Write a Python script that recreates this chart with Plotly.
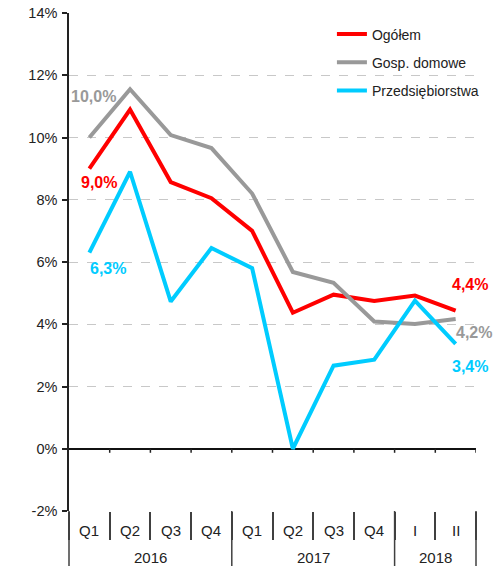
import plotly.graph_objects as go

# ---- data ----
quarters = ["Q1", "Q2", "Q3", "Q4", "Q1", "Q2", "Q3", "Q4", "I", "II"]
years = ["2016", "2017", "2018"]
year_sizes = [4, 4, 2]

ogolem = [9.0, 10.9, 8.57, 8.05, 7.0, 4.37, 4.95, 4.75, 4.92, 4.44]
gosp_domowe = [10.0, 11.55, 10.08, 9.66, 8.2, 5.68, 5.33, 4.09, 4.01, 4.17]
przedsiebiorstwa = [6.3, 8.9, 4.73, 6.45, 5.8, 0.0, 2.67, 2.86, 4.76, 3.37]

series_names = ["Ogółem", "Gosp. domowe", "Przedsiębiorstwa"]
series_values = [ogolem, gosp_domowe, przedsiebiorstwa]
series_colors = ["#FF0000", "#999999", "#00CCFF"]

y_ticks = [-2, 0, 2, 4, 6, 8, 10, 12, 14]

# data labels: (series index, point index, text, xshift, yshift)
data_labels = [
    (1, 0, "10,0%", 4, 41),
    (0, 0, "9,0%", 10, -14),
    (2, 0, "6,3%", 19, -16),
    (0, 9, "4,4%", 14, 26),
    (1, 9, "4,2%", 18, -14),
    (2, 9, "3,4%", 14, -23),
]

n = len(quarters)
xs = list(range(n))

fig = go.Figure()
for i, (name, vals, col) in enumerate(zip(series_names, series_values, series_colors)):
    fig.add_trace(go.Scatter(
        x=xs, y=vals, mode="lines", name=name,
        line=dict(color=col, width=4),
        legendgroup=name,
        hoverinfo="skip",
    ))

annotations = []
for si, pi, txt, dx, dy in data_labels:
    annotations.append(dict(
        x=xs[pi], y=series_values[si][pi], xref="x", yref="y",
        text="<b>%s</b>" % txt, showarrow=False,
        xshift=dx, yshift=dy,
        font=dict(family="Liberation Sans, Arial", size=16, color=series_colors[si]),
    ))

# quarter labels
for i, q in enumerate(quarters):
    annotations.append(dict(
        x=xs[i], y=0, xref="x", yref="paper", text=q, showarrow=False,
        yanchor="middle", yshift=-19,
        font=dict(family="Liberation Sans, Arial", size=15, color="#222"),
    ))

# year labels
plot_h = 498.0
shapes = []
start = 0
year_bounds = [0]
for y_lbl, sz in zip(years, year_sizes):
    center = start + (sz - 1) / 2.0
    annotations.append(dict(
        x=center, y=0, xref="x", yref="paper", text=y_lbl, showarrow=False,
        yanchor="middle", yshift=-46,
        font=dict(family="Liberation Sans, Arial", size=15, color="#222"),
    ))
    start += sz
    year_bounds.append(start)

sep_col = "#404040"
for b in year_bounds:
    shapes.append(dict(type="line", xref="paper", yref="paper",
                       x0=b / n, x1=b / n, y0=0, y1=-55 / plot_h,
                       line=dict(color=sep_col, width=1.5)))

# small ticks on the 0% line at category boundaries
for b in range(1, n + 1):
    shapes.append(dict(type="line", xref="x", yref="y",
                       x0=b - 0.5, x1=b - 0.5, y0=0, y1=-0.13,
                       line=dict(color="#222", width=1.5)))

fig.update_layout(
    width=496, height=559,
    margin=dict(l=61, r=28, t=5, b=56, pad=0, autoexpand=False),
    paper_bgcolor="white", plot_bgcolor="white",
    font=dict(family="Liberation Sans, Arial", size=14, color="#222"),
    showlegend=True,
    legend=dict(
        x=0.646, y=0.989, xanchor="left", yanchor="top",
        bgcolor="rgba(0,0,0,0)", borderwidth=0,
        tracegroupgap=7,
        font=dict(family="Liberation Sans, Arial", size=14, color="#222"),
    ),
    annotations=annotations,
    shapes=shapes,
)

fig.update_xaxes(
    range=[-0.5, n - 0.5],
    tickmode="array", tickvals=[b - 0.5 for b in range(n + 1)],
    showticklabels=False, ticks="outside", ticklen=28, tickwidth=1.5, tickcolor=sep_col,
    showgrid=False, zeroline=False, showline=False,
    automargin=False,
    fixedrange=True,
)
fig.update_yaxes(
    range=[-2, 14.001],
    tickmode="array", tickvals=y_ticks, ticktext=["%d%%" % v for v in y_ticks],
    ticks="outside", ticklen=5, tickwidth=1.5, tickcolor="#222",
    showline=True, linecolor="#222", linewidth=1.5,
    showgrid=True, gridcolor="#C8C8C8", griddash="dash", gridwidth=1,
    zeroline=True, zerolinecolor="#111", zerolinewidth=1.5,
    tickfont=dict(family="Liberation Sans, Arial", size=14.5, color="#222"),
    ticklabelstandoff=2,
    ticklabeloverflow="allow",
    automargin=False,
    fixedrange=True,
)

fig.write_html("out.html")
